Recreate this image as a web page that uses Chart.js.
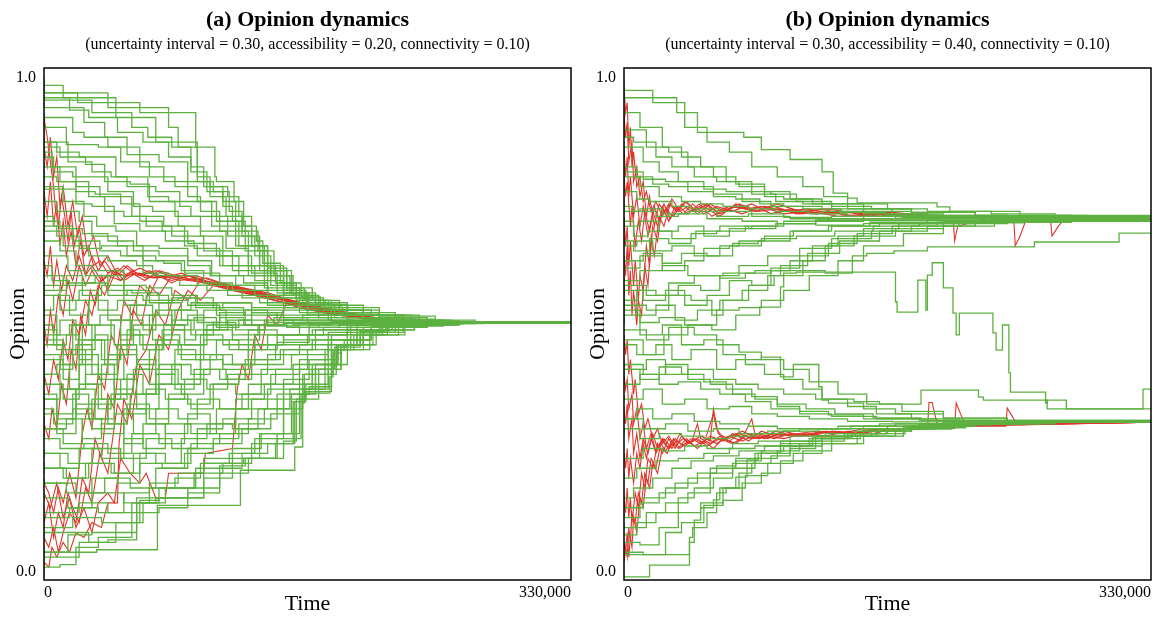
<!DOCTYPE html>
<html><head><meta charset="utf-8">
<script src="https://cdn.jsdelivr.net/npm/chart.js@4.4.1/dist/chart.umd.min.js"></script>
<style>
html,body{margin:0;padding:0;background:#fff;overflow:hidden}
#wrap{position:relative;width:1160px;height:620px;background:#fff}
canvas{position:absolute;top:0}
</style></head><body>
<div id="wrap">
<canvas id="ca" width="580" height="620" style="left:0"></canvas>
<canvas id="cb" width="580" height="620" style="left:580px"></canvas>
</div>
<script>
// Tick labels
const timeTicks = [0, 330000];
const opinionTicks = [0, 1];
const panelTitles = ['(a) Opinion dynamics', '(b) Opinion dynamics'];
const panelSubtitles = [
  '(uncertainty interval = 0.30, accessibility = 0.20, connectivity = 0.10)',
  '(uncertainty interval = 0.30, accessibility = 0.40, connectivity = 0.10)'
];
// Each series: [time (thousands), opinion, time, opinion, ...]
const greenA = [
 [0,1.0, 21,.97, 60,.95, 95,.93, 107,.86, 108,.80, 119,.79, 125,.75, 133,.70, 137,.67, 148,.625, 161,.585, 173,.557, 187,.536, 215,.515, 250,.506, 330,.506],
 [0,.99, 12,.985, 45,.96, 70,.92, 96,.87, 104,.80, 115,.78, 122,.76, 130,.72, 140,.66, 155,.61, 168,.575, 185,.55, 205,.53, 240,.51, 330,.505],
 [0,.96, 30,.955, 55,.93, 65,.90, 80,.88, 92,.86, 100,.82, 112,.78, 118,.74, 126,.71, 140,.65, 155,.60, 170,.565, 185,.545, 210,.525, 250,.508, 330,.505],
 [0,.93, 18,.92, 25,.89, 40,.88, 60,.86, 75,.82, 90,.79, 98,.76, 110,.73, 128,.69, 145,.62, 158,.585, 175,.555, 210,.535, 245,.518, 280,.507, 330,.505],
 [0,.90, 8,.87, 22,.85, 45,.84, 52,.80, 70,.78, 85,.77, 92,.74, 115,.72, 135,.68, 150,.62, 165,.565, 190,.545, 220,.525, 270,.51, 330,.505],
 [0,.88, 15,.87, 30,.83, 42,.81, 65,.80, 78,.76, 105,.75, 120,.70, 135,.66, 150,.61, 165,.565, 190,.54, 225,.52, 260,.508, 330,.505],
 [0,.86, 5,.85, 20,.82, 35,.78, 55,.76, 75,.72, 88,.70, 96,.66, 112,.64, 128,.62, 150,.60, 170,.555, 200,.53, 240,.515, 275,.507, 330,.505],
 [0,.83, 10,.82, 28,.79, 38,.76, 50,.73, 64,.72, 80,.70, 100,.68, 118,.65, 138,.61, 160,.575, 185,.535, 215,.52, 255,.51, 330,.505],
 [0,.80, 12,.78, 25,.75, 33,.72, 45,.70, 58,.69, 72,.66, 90,.655, 105,.63, 125,.60, 140,.585, 165,.555, 200,.525, 235,.515, 268,.507, 330,.505],
 [0,.77, 8,.75, 22,.73, 30,.71, 46,.68, 62,.66, 75,.63, 86,.625, 100,.61, 118,.585, 140,.57, 175,.54, 210,.52, 250,.51, 285,.506, 330,.505],
 [0,.74, 6,.72, 18,.70, 35,.67, 48,.65, 62,.64, 78,.605, 96,.60, 115,.58, 135,.56, 165,.545, 200,.52, 240,.51, 278,.506, 330,.505],
 [0,.71, 12,.69, 28,.66, 40,.64, 58,.63, 68,.62, 85,.60, 102,.58, 124,.57, 150,.555, 182,.535, 222,.515, 262,.507, 330,.505],
 [0,.68, 10,.67, 20,.65, 30,.62, 50,.61, 64,.58, 80,.575, 96,.56, 130,.545, 160,.535, 190,.525, 235,.51, 330,.505],
 [0,.65, 15,.64, 26,.61, 40,.60, 55,.57, 72,.565, 90,.55, 110,.54, 140,.53, 178,.52, 220,.51, 330,.505],
 [0,.63, 5,.62, 16,.59, 32,.585, 50,.60, 62,.56, 84,.55, 106,.555, 125,.535, 150,.52, 195,.51, 330,.505],
 [0,.975, 40,.97, 78,.94, 84,.90, 96,.86, 106,.79, 116,.77, 124,.73, 134,.69, 144,.65, 156,.60, 170,.56, 190,.535, 225,.515, 330,.505],
 [0,.95, 25,.94, 38,.91, 52,.88, 72,.845, 90,.83, 104,.79, 114,.76, 124,.72, 132,.68, 142,.64, 154,.60, 166,.565, 182,.54, 205,.525, 240,.51, 330,.505],
 [0,.91, 14,.90, 34,.865, 48,.86, 66,.83, 82,.80, 96,.78, 108,.75, 122,.71, 138,.66, 152,.61, 164,.57, 180,.545, 210,.525, 250,.508, 330,.505],
 [0,.845, 6,.84, 18,.81, 40,.80, 56,.77, 68,.74, 84,.73, 98,.70, 112,.68, 130,.64, 146,.605, 165,.565, 190,.54, 225,.52, 265,.507, 330,.505],
 [0,.785, 20,.775, 30,.745, 44,.74, 60,.705, 76,.69, 94,.67, 110,.655, 132,.62, 150,.59, 172,.56, 200,.54, 235,.52, 270,.507, 330,.505],
 [0,.69, 8,.70, 22,.68, 36,.655, 52,.66, 70,.64, 88,.63, 110,.605, 132,.58, 160,.56, 190,.54, 230,.52, 270,.507, 330,.505],
 [0,.965, 16,.96, 28,.935, 46,.92, 62,.89, 78,.87, 92,.84, 102,.81, 112,.77, 120,.75, 130,.70, 140,.66, 152,.615, 163,.575, 178,.55, 200,.53, 230,.512, 330,.505],
 [0,.875, 10,.86, 26,.84, 38,.825, 54,.79, 66,.785, 82,.75, 98,.72, 114,.69, 128,.655, 142,.62, 158,.58, 176,.55, 200,.53, 232,.515, 330,.505],
 [0,.815, 8,.80, 20,.79, 32,.77, 48,.765, 60,.745, 74,.71, 90,.69, 108,.665, 122,.64, 140,.60, 158,.57, 180,.55, 210,.53, 245,.512, 330,.505],
 [0,.725, 10,.71, 24,.695, 40,.685, 56,.67, 72,.65, 90,.64, 104,.62, 120,.60, 140,.58, 162,.56, 190,.54, 222,.52, 260,.508, 330,.505],
 [0,.58, 10,.56, 20,.53, 28,.55, 35,.50, 48,.52, 55,.47, 62,.51, 70,.49, 80,.53, 90,.50, 100,.52, 115,.49, 130,.51, 150,.50, 180,.51, 220,.505, 330,.505],
 [0,.55, 8,.52, 16,.48, 24,.50, 32,.45, 40,.48, 52,.44, 60,.49, 75,.46, 88,.50, 95,.47, 110,.49, 125,.515, 140,.50, 170,.505, 330,.505],
 [0,.52, 6,.50, 14,.46, 22,.48, 30,.43, 38,.47, 46,.42, 58,.46, 66,.41, 75,.45, 85,.48, 100,.46, 118,.49, 135,.47, 150,.50, 190,.503, 330,.505],
 [0,.49, 12,.47, 20,.44, 30,.46, 40,.40, 50,.44, 58,.39, 70,.43, 82,.40, 95,.45, 108,.43, 122,.47, 140,.45, 160,.48, 185,.495, 215,.50, 330,.505],
 [0,.46, 10,.44, 18,.41, 26,.45, 36,.38, 44,.42, 56,.37, 66,.41, 80,.38, 92,.42, 104,.40, 118,.44, 132,.42, 150,.46, 175,.48, 205,.495, 240,.503, 330,.505],
 [0,.43, 8,.40, 16,.42, 26,.37, 36,.40, 48,.35, 58,.39, 70,.36, 82,.40, 94,.37, 110,.41, 126,.39, 145,.43, 165,.46, 190,.48, 230,.50, 330,.505],
 [0,.40, 12,.38, 22,.35, 34,.38, 42,.33, 54,.36, 64,.32, 76,.37, 88,.35, 102,.39, 115,.37, 130,.40, 150,.42, 170,.45, 200,.47, 235,.495, 270,.503, 330,.505],
 [0,.37, 10,.35, 20,.37, 30,.32, 40,.35, 52,.30, 66,.34, 78,.31, 90,.36, 104,.34, 120,.38, 136,.36, 155,.41, 178,.44, 210,.485, 250,.498, 330,.505],
 [0,.34, 6,.33, 18,.30, 30,.33, 44,.29, 56,.32, 70,.28, 84,.33, 96,.31, 110,.35, 128,.33, 145,.38, 165,.41, 190,.45, 225,.49, 260,.50, 330,.505],
 [0,.31, 14,.29, 24,.31, 36,.27, 50,.30, 62,.26, 76,.30, 90,.28, 104,.32, 120,.30, 138,.35, 156,.38, 180,.42, 205,.47, 240,.495, 275,.503, 330,.505],
 [0,.575, 14,.57, 24,.60, 36,.56, 50,.58, 64,.54, 78,.56, 92,.53, 108,.545, 126,.52, 150,.53, 180,.515, 220,.508, 330,.505],
 [0,.355, 8,.36, 18,.32, 28,.36, 40,.31, 52,.35, 62,.40, 72,.36, 86,.42, 98,.39, 112,.44, 128,.42, 146,.46, 168,.48, 196,.49, 235,.50, 330,.505],
 [0,.60, 10,.58, 22,.55, 34,.57, 46,.53, 58,.55, 72,.52, 86,.545, 100,.51, 114,.53, 130,.50, 146,.525, 162,.51, 180,.52, 205,.508, 240,.505, 330,.505],
 [0,.47, 8,.49, 18,.45, 30,.50, 42,.47, 54,.51, 66,.48, 80,.52, 94,.49, 108,.515, 122,.495, 140,.51, 160,.498, 185,.505, 330,.505],
 [0,.44, 12,.46, 24,.42, 36,.47, 48,.43, 62,.48, 74,.45, 88,.49, 102,.46, 118,.50, 134,.48, 152,.50, 172,.495, 200,.503, 330,.505],
 [0,.38, 10,.40, 22,.37, 34,.42, 46,.39, 58,.44, 72,.41, 86,.46, 100,.43, 116,.47, 132,.45, 150,.48, 170,.47, 192,.49, 225,.50, 330,.505],
 [0,.33, 8,.35, 20,.31, 32,.37, 44,.34, 56,.39, 70,.36, 84,.41, 98,.38, 112,.43, 128,.41, 146,.45, 166,.465, 190,.48, 220,.495, 260,.503, 330,.505],
 [0,.27, 12,.29, 24,.26, 36,.31, 50,.28, 64,.33, 78,.30, 92,.35, 106,.33, 122,.38, 140,.40, 160,.44, 180,.46, 205,.48, 235,.497, 330,.505],
 [0,.54, 6,.53, 16,.56, 28,.52, 40,.55, 54,.51, 68,.54, 82,.50, 96,.53, 110,.505, 126,.525, 144,.50, 165,.515, 195,.505, 330,.505],
 [0,.61, 12,.60, 26,.58, 40,.585, 52,.56, 66,.57, 80,.545, 95,.555, 112,.535, 130,.545, 150,.525, 172,.53, 200,.515, 235,.508, 330,.505],
 [0,.505, 10,.48, 20,.51, 32,.47, 44,.50, 56,.46, 68,.50, 80,.47, 92,.51, 106,.48, 120,.505, 138,.49, 156,.51, 180,.50, 330,.505],
 [0,.415, 12,.43, 22,.39, 34,.44, 46,.40, 58,.45, 70,.42, 84,.47, 98,.44, 112,.48, 128,.46, 146,.49, 166,.48, 190,.50, 330,.505],
 [0,.30, 8,.32, 20,.28, 32,.34, 44,.31, 58,.36, 72,.33, 86,.38, 100,.36, 114,.41, 130,.39, 148,.43, 168,.45, 190,.47, 215,.49, 245,.50, 330,.505],
 [0,.23, 10,.24, 22,.21, 36,.25, 50,.23, 62,.27, 76,.25, 92,.30, 108,.28, 124,.33, 142,.36, 160,.40, 178,.43, 200,.46, 225,.485, 255,.50, 330,.505],
 [0,.20, 14,.21, 28,.19, 42,.22, 56,.20, 70,.24, 86,.22, 102,.27, 118,.30, 134,.29, 150,.33, 168,.38, 186,.42, 206,.46, 232,.49, 262,.503, 330,.505],
 [0,.175, 14,.18, 30,.16, 46,.19, 60,.18, 74,.22, 90,.21, 106,.25, 122,.27, 138,.30, 154,.33, 170,.37, 186,.41, 204,.45, 226,.48, 258,.50, 330,.505],
 [0,.115, 16,.11, 34,.13, 50,.12, 66,.16, 82,.17, 98,.19, 116,.22, 132,.24, 150,.27, 162,.33, 176,.37, 190,.42, 208,.46, 232,.49, 262,.503, 330,.505],
 [0,.035, 22,.03, 40,.06, 58,.065, 72,.12, 90,.13, 110,.16, 128,.20, 146,.23, 160,.28, 172,.35, 186,.41, 200,.45, 222,.48, 250,.50, 330,.505],
 [0,.28, 10,.27, 25,.25, 40,.26, 55,.24, 72,.28, 88,.26, 104,.30, 120,.28, 140,.33, 160,.37, 176,.41, 192,.45, 212,.48, 240,.497, 262,.503, 330,.505],
 [0,.25, 15,.24, 30,.22, 48,.25, 64,.23, 80,.27, 96,.25, 112,.29, 130,.31, 150,.35, 166,.39, 184,.43, 200,.46, 220,.485, 255,.50, 330,.505],
 [0,.22, 12,.21, 26,.19, 44,.22, 60,.20, 76,.24, 92,.22, 110,.26, 128,.28, 146,.31, 162,.36, 180,.40, 194,.45, 215,.48, 245,.50, 330,.505],
 [0,.19, 20,.18, 38,.16, 54,.19, 70,.17, 88,.21, 106,.24, 124,.26, 142,.29, 160,.32, 168,.37, 183,.41, 196,.46, 218,.49, 250,.502, 330,.505],
 [0,.16, 15,.15, 30,.13, 50,.16, 66,.14, 84,.18, 100,.20, 118,.23, 136,.25, 150,.28, 164,.35, 178,.38, 188,.45, 205,.47, 230,.495, 260,.503, 330,.505],
 [0,.13, 22,.12, 40,.14, 58,.12, 76,.15, 94,.17, 112,.20, 130,.22, 146,.26, 161,.27, 166,.36, 180,.375, 184,.42, 192,.46, 214,.49, 245,.50, 330,.505],
 [0,.10, 18,.09, 36,.11, 55,.10, 72,.14, 90,.15, 110,.17, 126,.215, 150,.23, 158,.265, 163,.35, 178,.37, 182,.41, 190,.455, 204,.47, 222,.49, 250,.502, 330,.505],
 [0,.07, 28,.08, 45,.06, 62,.10, 76,.14, 100,.15, 125,.22, 145,.23, 157,.26, 164,.345, 180,.365, 183,.40, 188,.45, 200,.46, 216,.488, 240,.499, 330,.505],
 [0,-.01, 33,.04, 71,.045, 72,.135, 123,.135, 125,.206, 157,.206, 158,.253, 162,.253, 163,.342, 179,.362, 181,.395, 186,.443, 198,.455, 211,.484, 236,.496, 253,.504, 330,.505],
 [0,.02, 10,.01, 20,.015, 34,.05, 55,.07, 60,.10, 72,.145, 95,.17, 124,.21, 140,.24, 156,.26, 163,.345, 181,.40, 186,.45, 198,.46, 212,.487, 238,.498, 330,.505],
 [0,.05, 15,.04, 30,.075, 58,.08, 70,.14, 100,.15, 118,.19, 135,.23, 155,.28, 170,.36, 184,.42, 196,.46, 215,.485, 248,.50, 330,.505]
];
const redA = [
 [0,.92, 2,.88, 4,.83, 6,.78, 7,.74, 9,.70, 11,.76, 13,.72, 15,.67, 17,.73, 19,.66, 22,.70, 25,.64, 28,.66, 31,.62, 35,.63, 40,.605, 46,.615, 52,.60, 60,.605, 70,.595, 82,.60, 95,.59, 110,.585, 125,.575, 140,.565, 160,.545, 180,.53, 200,.515, 228,.506, 330,.505],
 [0,.77, 2,.72, 4,.79, 6,.70, 8,.75, 10,.66, 12,.71, 14,.64, 17,.69, 20,.62, 23,.67, 26,.60, 30,.64, 34,.61, 38,.63, 44,.60, 50,.62, 58,.60, 66,.61, 75,.595, 86,.605, 98,.59, 112,.58, 128,.57, 145,.555, 165,.54, 185,.525, 210,.51, 232,.505, 330,.505],
 [0,.63, 2,.60, 4,.66, 6,.58, 8,.63, 11,.57, 14,.62, 18,.59, 22,.64, 26,.60, 30,.62, 36,.59, 42,.61, 50,.60, 60,.615, 70,.60, 80,.59, 92,.60, 105,.585, 120,.575, 138,.56, 155,.545, 175,.53, 200,.515, 228,.505, 330,.505],
 [0,.50, 2,.46, 4,.53, 6,.48, 9,.56, 12,.52, 15,.59, 18,.55, 22,.62, 26,.58, 30,.61, 35,.585, 40,.60, 48,.59, 55,.61, 64,.595, 74,.60, 85,.59, 96,.595, 108,.58, 122,.57, 140,.555, 160,.535, 185,.52, 215,.508, 235,.505, 330,.505],
 [0,.30, 3,.27, 5,.33, 8,.29, 11,.38, 14,.34, 17,.45, 20,.41, 23,.52, 26,.48, 29,.57, 32,.54, 36,.60, 40,.57, 45,.61, 50,.59, 58,.605, 68,.595, 78,.60, 90,.59, 104,.585, 118,.575, 134,.565, 150,.55, 172,.53, 195,.515, 225,.505, 330,.505],
 [0,.18, 3,.16, 6,.12, 9,.17, 12,.14, 16,.20, 20,.15, 24,.28, 27,.33, 30,.29, 34,.40, 38,.37, 42,.48, 46,.45, 50,.55, 55,.52, 60,.58, 66,.56, 72,.60, 80,.585, 90,.60, 100,.59, 115,.58, 130,.57, 148,.555, 168,.54, 190,.525, 215,.51, 235,.505, 330,.505],
 [0,.10, 3,.14, 6,.07, 9,.12, 12,.09, 15,.16, 18,.13, 22,.10, 26,.17, 30,.14, 35,.24, 40,.20, 46,.34, 52,.30, 58,.42, 64,.45, 70,.53, 76,.50, 82,.57, 90,.55, 98,.59, 108,.58, 120,.575, 135,.56, 150,.55, 170,.535, 195,.52, 225,.506, 330,.505],
 [0,.02, 3,.01, 5,.05, 8,.03, 12,.06, 16,.04, 20,.08, 25,.07, 30,.10, 36,.09, 40,.14, 46,.14, 47,.26, 50,.35, 55,.31, 60,.42, 66,.38, 72,.48, 78,.45, 84,.53, 90,.57, 98,.55, 106,.58, 118,.57, 132,.56, 150,.545, 170,.535, 195,.52, 225,.506, 330,.505],
 [0,.16, 4,.13, 8,.18, 12,.11, 16,.15, 20,.09, 25,.13, 30,.08, 34,.14, 40,.16, 44,.14, 48,.23, 54,.20, 60,.18, 64,.20, 70,.15, 76,.15, 78,.20, 100,.20, 101,.24, 118,.25, 121,.37, 124,.42, 128,.39, 132,.48, 136,.45, 140,.52, 146,.50, 152,.545, 160,.535, 175,.525, 195,.515, 225,.505, 330,.505],
 [0,.86, 2,.82, 4,.88, 6,.80, 8,.84, 10,.74, 12,.78, 15,.70, 18,.75, 21,.68, 24,.72, 27,.65, 31,.68, 35,.62, 40,.64, 46,.60, 52,.62, 60,.60, 70,.61, 82,.595, 95,.60, 110,.585, 125,.575, 142,.56, 162,.54, 185,.525, 210,.51, 232,.505, 330,.505],
 [0,.40, 3,.36, 6,.43, 9,.39, 12,.47, 15,.43, 18,.51, 22,.48, 26,.55, 30,.52, 34,.58, 38,.56, 43,.61, 48,.59, 55,.605, 63,.59, 72,.61, 82,.60, 94,.59, 106,.58, 120,.57, 138,.555, 158,.54, 180,.525, 205,.51, 230,.505, 330,.505],
 [0,.07, 3,.05, 6,.09, 9,.04, 12,.08, 16,.12, 20,.10, 24,.19, 28,.16, 32,.27, 36,.23, 40,.36, 44,.33, 48,.46, 52,.42, 56,.53, 61,.50, 66,.58, 72,.56, 80,.60, 90,.59, 102,.595, 116,.58, 130,.57, 146,.555, 166,.54, 190,.525, 220,.508, 240,.505, 330,.505]
];
const greenB = [
 [0,.995, 33,.96, 46,.93, 75,.89, 86,.88, 104,.855, 124,.835, 131,.81, 140,.767, 146,.757, 196,.747, 204,.739, 248,.73, 290,.722, 330,.72],
 [0,.97, 18,.975, 38,.95, 52,.90, 66,.87, 80,.85, 96,.82, 112,.80, 125,.78, 140,.76, 165,.745, 190,.735, 230,.73, 270,.725, 330,.722],
 [0,.94, 10,.93, 24,.90, 36,.86, 48,.84, 64,.82, 80,.79, 92,.77, 108,.765, 130,.75, 155,.74, 180,.735, 220,.728, 330,.718],
 [0,.91, 6,.88, 20,.87, 30,.84, 44,.82, 58,.80, 72,.79, 88,.78, 100,.76, 118,.755, 140,.745, 168,.735, 200,.725, 260,.72, 330,.716],
 [0,.90, 14,.895, 28,.86, 40,.85, 56,.82, 70,.80, 88,.785, 104,.77, 124,.755, 150,.745, 180,.735, 220,.728, 280,.722, 330,.72],
 [0,.87, 12,.86, 22,.83, 34,.81, 50,.79, 64,.775, 80,.77, 95,.765, 112,.75, 130,.745, 150,.735, 180,.73, 240,.722, 330,.718],
 [0,.84, 8,.82, 18,.80, 28,.785, 40,.78, 56,.77, 70,.76, 85,.755, 100,.745, 124,.74, 150,.73, 190,.725, 250,.72, 330,.715],
 [0,.825, 12,.81, 26,.795, 40,.79, 56,.78, 74,.765, 92,.75, 112,.74, 136,.735, 164,.728, 200,.722, 260,.718, 330,.716],
 [0,.81, 10,.80, 22,.78, 36,.76, 48,.75, 62,.745, 78,.74, 95,.735, 116,.73, 140,.725, 175,.72, 230,.718, 330,.714],
 [0,.78, 8,.77, 16,.755, 30,.75, 42,.74, 60,.735, 80,.73, 104,.72, 128,.715, 160,.712, 210,.712, 330,.712],
 [0,.76, 6,.74, 20,.73, 34,.72, 52,.725, 74,.715, 96,.71, 120,.705, 150,.702, 190,.705, 240,.708, 330,.71],
 [0,.60, 10,.59, 24,.61, 40,.62, 62,.60, 82,.605, 100,.61, 126,.61, 143,.605, 152,.64, 169,.645, 190,.65, 209,.658, 257,.658, 258,.668, 310,.668, 311,.686, 330,.686],
 [0,.68, 8,.66, 18,.67, 30,.65, 44,.66, 60,.64, 72,.66, 88,.67, 106,.68, 130,.69, 160,.70, 200,.705, 250,.71, 330,.712],
 [0,.64, 12,.63, 24,.645, 38,.61, 50,.63, 66,.655, 86,.66, 108,.675, 132,.68, 156,.69, 185,.70, 220,.705, 270,.71, 330,.712],
 [0,.57, 8,.55, 20,.57, 34,.56, 48,.58, 60,.57, 72,.60, 90,.62, 110,.64, 130,.655, 155,.675, 180,.69, 210,.70, 250,.707, 330,.71],
 [0,.565, 14,.58, 28,.56, 44,.585, 60,.60, 76,.595, 92,.605, 110,.615, 128,.64, 146,.665, 168,.685, 196,.70, 240,.708, 330,.712],
 [0,.55, 14,.54, 28,.53, 42,.56, 55,.55, 62,.52, 78,.55, 94,.58, 112,.60, 126,.63, 144,.66, 170,.68, 200,.695, 240,.705, 330,.71],
 [0,.52, 10,.53, 22,.505, 38,.515, 58,.50, 72,.53, 86,.535, 100,.55, 116,.57, 134,.60, 150,.63, 175,.66, 200,.685, 232,.70, 280,.708, 330,.712],
 [0,.72, 10,.70, 22,.71, 34,.69, 50,.70, 66,.68, 80,.695, 100,.70, 122,.71, 150,.715, 190,.72, 240,.722, 330,.72],
 [0,.70, 6,.71, 15,.68, 30,.69, 45,.675, 60,.69, 78,.70, 95,.695, 120,.705, 150,.71, 200,.715, 330,.716],
 [0,.66, 6,.67, 16,.65, 28,.675, 42,.665, 58,.685, 76,.69, 96,.70, 120,.705, 150,.712, 200,.715, 330,.715],
 [0,.745, 10,.73, 24,.735, 40,.725, 58,.73, 78,.72, 100,.725, 130,.718, 170,.72, 230,.716, 330,.714],
 [0,.62, 10,.615, 24,.64, 36,.625, 52,.645, 68,.64, 84,.665, 104,.67, 128,.69, 154,.70, 190,.708, 240,.712, 330,.714],
 [0,.45, 12,.47, 25,.44, 40,.48, 55,.50, 70,.49, 85,.52, 98,.536, 100,.577, 108,.605, 120,.607, 170,.607, 171,.547, 176,.526, 184,.526, 187,.591, 189,.591, 190,.53, 193,.601, 200,.626, 202,.575, 206,.575, 208,.524, 210,.48, 212,.524, 231,.524, 233,.484, 237,.449, 239,.50, 241,.50, 242,.403, 246,.364, 264,.364, 265,.342, 277,.348, 306,.33, 330,.33],
 [0,.50, 10,.52, 24,.48, 36,.50, 50,.46, 62,.47, 76,.44, 88,.42, 100,.40, 112,.39, 124,.37, 140,.35, 158,.335, 180,.32, 210,.31, 260,.305, 330,.305],
 [0,.485, 14,.49, 28,.47, 44,.495, 58,.48, 72,.46, 86,.445, 100,.43, 116,.41, 134,.385, 152,.36, 174,.34, 200,.325, 240,.312, 330,.307],
 [0,.47, 8,.46, 20,.44, 30,.46, 42,.43, 58,.45, 70,.41, 86,.43, 98,.435, 106,.395, 110,.42, 122,.42, 124,.375, 128,.348, 150,.342, 170,.33, 200,.32, 240,.31, 330,.307],
 [0,.43, 12,.42, 26,.40, 40,.42, 54,.39, 68,.38, 82,.36, 96,.35, 110,.335, 128,.325, 150,.318, 185,.31, 230,.306, 330,.305],
 [0,.40, 10,.41, 22,.39, 36,.415, 50,.40, 64,.385, 80,.37, 96,.355, 114,.34, 132,.33, 156,.32, 186,.312, 230,.307, 330,.305],
 [0,.58, 12,.57, 26,.55, 38,.57, 52,.54, 66,.56, 80,.59, 92,.58, 104,.61, 118,.63, 134,.66, 150,.68, 172,.695, 200,.705, 250,.71, 330,.712],
 [0,.53, 8,.55, 20,.52, 32,.54, 46,.51, 60,.53, 74,.55, 90,.57, 98,.60, 115,.62, 135,.645, 160,.67, 190,.69, 220,.70, 280,.708, 330,.71],
 [0,-.01, 16,-.01, 17,.014, 41,.014, 44,.06, 48,.105, 56,.13, 60,.146, 70,.17, 77,.192, 84,.227, 98,.24, 118,.26, 143,.273, 160,.28, 190,.29, 230,.30, 280,.303, 330,.305],
 [0,.035, 41,.035, 43,.07, 52,.09, 58,.12, 64,.16, 72,.17, 80,.20, 92,.22, 104,.235, 120,.25, 138,.265, 158,.275, 180,.285, 215,.295, 260,.30, 330,.303],
 [0,.04, 12,.04, 26,.035, 36,.08, 50,.10, 62,.135, 74,.145, 86,.18, 98,.20, 112,.225, 130,.245, 150,.26, 175,.275, 205,.29, 245,.30, 330,.305],
 [0,.06, 10,.06, 22,.055, 34,.09, 48,.12, 62,.14, 76,.17, 90,.195, 106,.22, 124,.24, 146,.26, 170,.275, 205,.29, 250,.30, 330,.305],
 [0,.08, 8,.075, 20,.10, 34,.12, 44,.15, 56,.17, 68,.19, 82,.21, 96,.23, 110,.245, 130,.26, 155,.275, 185,.29, 225,.30, 330,.306],
 [0,.10, 14,.09, 26,.12, 40,.14, 54,.16, 68,.20, 82,.22, 98,.24, 116,.255, 138,.27, 164,.28, 196,.29, 240,.30, 330,.305],
 [0,.12, 10,.11, 22,.14, 32,.16, 46,.18, 58,.20, 70,.215, 86,.23, 100,.245, 118,.255, 140,.27, 165,.28, 200,.295, 250,.302, 330,.306],
 [0,.14, 12,.13, 26,.15, 40,.17, 54,.19, 70,.21, 86,.225, 104,.24, 124,.255, 148,.27, 176,.28, 214,.292, 270,.302, 330,.305],
 [0,.16, 6,.15, 18,.17, 30,.19, 42,.21, 56,.225, 72,.235, 88,.245, 104,.255, 124,.265, 150,.275, 180,.285, 220,.295, 280,.303, 330,.306],
 [0,.20, 8,.19, 20,.21, 34,.225, 50,.23, 66,.24, 82,.25, 98,.255, 120,.265, 145,.275, 175,.285, 215,.295, 270,.30, 330,.305],
 [0,.24, 12,.23, 24,.25, 38,.245, 52,.255, 68,.25, 84,.26, 104,.265, 126,.275, 150,.28, 185,.29, 230,.298, 330,.305],
 [0,.28, 10,.29, 22,.27, 36,.28, 50,.275, 66,.27, 82,.275, 100,.28, 122,.285, 150,.29, 190,.295, 240,.30, 330,.304],
 [0,.30, 12,.31, 26,.29, 40,.30, 56,.285, 72,.29, 90,.28, 110,.285, 134,.29, 160,.295, 200,.30, 330,.304],
 [0,.32, 8,.31, 18,.33, 30,.31, 44,.32, 60,.305, 78,.30, 96,.295, 118,.29, 142,.29, 170,.295, 210,.30, 260,.303, 330,.305],
 [0,.36, 12,.35, 24,.37, 38,.34, 52,.35, 66,.33, 80,.335, 96,.32, 116,.315, 140,.31, 168,.305, 200,.304, 260,.304, 330,.305],
 [0,.39, 10,.38, 22,.40, 34,.38, 48,.385, 60,.37, 76,.36, 92,.345, 110,.33, 130,.32, 158,.315, 196,.31, 250,.306, 330,.305],
 [0,.42, 14,.41, 26,.43, 40,.40, 56,.41, 70,.39, 84,.38, 100,.37, 120,.36, 144,.35, 160,.345, 186,.34, 187,.368, 222,.368, 225,.354, 265,.348, 268,.33, 325,.33, 326,.37, 330,.37]
];
const redB = [
 [0,.98, 1,.93, 2,.95, 3,.86, 4,.90, 5,.82, 6,.85, 8,.78, 10,.80, 12,.75, 14,.77, 17,.73, 20,.75, 24,.72, 28,.745, 33,.73, 38,.75, 44,.735, 50,.745, 58,.73, 66,.74, 76,.735, 88,.74, 100,.73, 115,.735, 130,.725, 150,.73, 170,.72, 190,.722, 206,.72, 207,.67, 209,.70, 230,.718, 260,.716, 330,.715],
 [0,.93, 1,.88, 2,.91, 3,.83, 5,.87, 6,.79, 8,.82, 10,.76, 12,.79, 14,.72, 16,.76, 19,.70, 22,.745, 26,.725, 30,.755, 35,.73, 40,.74, 46,.725, 54,.745, 62,.73, 72,.745, 84,.73, 96,.735, 110,.725, 126,.73, 145,.72, 165,.725, 185,.718, 215,.72, 244,.718, 245,.66, 248,.68, 252,.715, 330,.716],
 [0,.86, 1,.80, 2,.84, 3,.76, 4,.80, 6,.72, 8,.76, 10,.70, 12,.74, 15,.68, 18,.73, 21,.70, 25,.745, 29,.715, 34,.74, 40,.725, 47,.745, 55,.72, 64,.735, 74,.725, 86,.74, 100,.725, 116,.73, 134,.72, 154,.725, 176,.718, 200,.72, 267,.718, 268,.68, 272,.70, 276,.715, 330,.715],
 [0,.80, 1,.76, 2,.79, 4,.70, 5,.74, 7,.66, 9,.71, 11,.67, 13,.73, 16,.69, 19,.74, 22,.71, 26,.735, 31,.72, 36,.745, 42,.73, 50,.74, 60,.72, 70,.745, 82,.73, 94,.74, 108,.725, 124,.735, 142,.72, 162,.725, 184,.72, 230,.718, 330,.716],
 [0,.72, 1,.66, 2,.70, 3,.62, 4,.67, 6,.58, 7,.63, 9,.55, 10,.60, 12,.57, 14,.66, 16,.62, 18,.70, 21,.67, 24,.74, 28,.71, 32,.74, 37,.725, 43,.745, 50,.725, 58,.74, 68,.73, 80,.745, 92,.725, 104,.735, 120,.725, 140,.73, 160,.72, 180,.724, 220,.718, 330,.716],
 [0,.64, 1,.60, 2,.66, 3,.56, 4,.61, 5,.52, 6,.57, 8,.50, 9,.55, 11,.52, 13,.62, 15,.58, 17,.68, 19,.64, 22,.72, 25,.70, 29,.745, 34,.73, 39,.75, 45,.73, 52,.745, 60,.725, 70,.74, 82,.73, 96,.745, 110,.73, 128,.735, 146,.725, 168,.728, 195,.72, 240,.718, 330,.716],
 [0,.48, 1,.44, 2,.47, 3,.40, 4,.43, 6,.36, 7,.39, 9,.32, 11,.34, 13,.29, 15,.31, 18,.27, 21,.29, 24,.26, 28,.275, 32,.255, 37,.27, 42,.26, 46,.30, 48,.27, 54,.26, 60,.275, 66,.265, 72,.28, 80,.27, 90,.275, 100,.27, 112,.28, 126,.275, 140,.285, 155,.28, 170,.29, 190,.29, 191,.343, 193,.343, 196,.30, 220,.298, 260,.302, 330,.305],
 [0,.40, 1,.37, 2,.39, 3,.33, 5,.36, 6,.30, 8,.33, 10,.27, 12,.30, 14,.25, 17,.28, 20,.245, 24,.27, 28,.25, 33,.265, 38,.255, 44,.27, 50,.26, 56,.32, 58,.29, 62,.27, 70,.28, 78,.265, 86,.285, 96,.275, 108,.28, 120,.285, 134,.28, 150,.29, 168,.285, 190,.295, 207,.29, 208,.342, 212,.31, 215,.295, 250,.30, 330,.304],
 [0,.33, 1,.30, 2,.34, 3,.27, 5,.31, 6,.24, 8,.28, 10,.23, 12,.27, 15,.24, 18,.28, 21,.25, 25,.27, 30,.25, 35,.28, 40,.26, 48,.275, 54,.265, 56,.33, 59,.28, 65,.27, 74,.285, 84,.27, 94,.28, 106,.275, 118,.28, 132,.285, 148,.28, 165,.29, 185,.29, 215,.295, 239,.295, 240,.332, 244,.31, 248,.298, 330,.303],
 [0,.24, 1,.21, 2,.25, 3,.19, 4,.23, 6,.18, 8,.24, 10,.21, 12,.26, 14,.23, 17,.27, 20,.24, 24,.265, 28,.25, 32,.27, 37,.255, 42,.27, 48,.26, 54,.275, 62,.265, 68,.28, 74,.27, 80,.31, 82,.28, 90,.27, 100,.285, 112,.275, 126,.285, 142,.28, 160,.29, 180,.288, 205,.295, 240,.298, 330,.303],
 [0,.15, 1,.12, 2,.17, 3,.11, 4,.15, 5,.10, 7,.16, 9,.13, 11,.20, 13,.17, 15,.23, 18,.21, 21,.26, 24,.24, 28,.27, 32,.25, 36,.275, 41,.26, 46,.27, 52,.255, 60,.27, 68,.26, 76,.275, 85,.27, 95,.285, 106,.275, 118,.28, 130,.285, 145,.28, 162,.29, 185,.29, 210,.295, 330,.303],
 [0,.06, 1,.04, 2,.08, 3,.03, 4,.07, 5,.05, 6,.11, 8,.08, 10,.15, 12,.13, 14,.19, 16,.17, 18,.22, 21,.20, 24,.25, 27,.24, 31,.27, 35,.25, 40,.265, 46,.25, 52,.27, 58,.26, 66,.275, 74,.265, 84,.28, 94,.27, 104,.28, 116,.275, 130,.285, 146,.28, 164,.29, 190,.292, 230,.298, 330,.303],
 [0,.02, 1,.05, 2,.03, 3,.09, 4,.06, 5,.12, 7,.10, 9,.16, 11,.14, 13,.20, 15,.18, 17,.23, 20,.21, 23,.26, 26,.245, 30,.265, 34,.25, 39,.27, 44,.255, 50,.265, 56,.25, 62,.27, 70,.26, 78,.28, 88,.27, 98,.28, 110,.275, 124,.285, 140,.28, 158,.29, 180,.29, 210,.296, 330,.303]
];

const GREEN = 'rgb(92,177,64)';
const RED = 'rgb(222,54,42)';
const SERIF = "'Liberation Serif', 'Times New Roman', serif";
Chart.defaults.font.family = SERIF;
Chart.defaults.color = '#000';

function toPoints(arr) {
  const pts = [];
  for (let i = 0; i < arr.length; i += 2) pts.push({x: arr[i] * 1000, y: arr[i + 1]});
  return pts;
}

const framePlugin = {
  id: 'frame',
  afterDraw(chart) {
    const a = chart.chartArea, c = chart.ctx;
    c.save();
    c.strokeStyle = '#000';
    c.lineWidth = 1.5;
    c.strokeRect(a.left, a.top, a.right - a.left, a.bottom - a.top);
    c.restore();
  }
};

function build(id, idx, greens, reds) {
  const datasets = [];
  greens.forEach(s => datasets.push({data: toPoints(s), borderColor: GREEN, borderWidth: 1.3, stepped: 'after', pointRadius: 0, fill: false}));
  reds.forEach(s => datasets.push({data: toPoints(s), borderColor: RED, borderWidth: 1.1, pointRadius: 0, tension: 0, fill: false}));
  new Chart(document.getElementById(id), {
    type: 'line',
    data: {datasets},
    plugins: [framePlugin],
    options: {
      responsive: false, animation: false, devicePixelRatio: 1,
      events: [],
      layout: {padding: {left: 0, right: 9, top: 0, bottom: 0}},
      plugins: {
        legend: {display: false}, tooltip: {enabled: false},
        title: {display: true, fullSize: false, text: panelTitles[idx], color: '#000',
          font: {family: SERIF, size: 22, weight: 'bold'}, padding: {top: 7, bottom: 0}},
        subtitle: {display: true, fullSize: false, text: panelSubtitles[idx], color: '#000',
          font: {family: SERIF, size: 16}, padding: {top: 2, bottom: 13.4}}
      },
      scales: {
        x: {
          type: 'linear', min: 0, max: 330000,
          afterBuildTicks: s => { s.ticks = timeTicks.map(v => ({value: v})); },
          afterFit: s => { s.height = 40; },
          grid: {display: false, drawTicks: false}, border: {display: false},
          ticks: {align: 'inner', autoSkip: false, maxRotation: 0, padding: 3, color: '#000',
            font: {family: SERIF, size: 16}, callback: v => Number(v).toLocaleString('en-US')},
          title: {display: true, text: 'Time', color: '#000', font: {family: SERIF, size: 22}, padding: {top: 0, bottom: 3}}
        },
        y: {
          type: 'linear', min: -0.0162, max: 1.0202,
          afterBuildTicks: s => { s.ticks = opinionTicks.map(v => ({value: v})); },
          afterFit: s => { s.width = 44; },
          grid: {display: false, drawTicks: false}, border: {display: false},
          ticks: {autoSkip: false, padding: 8, color: '#000', font: {family: SERIF, size: 16},
            callback: v => Number(v).toFixed(1)},
          title: {display: true, text: 'Opinion', color: '#000', font: {family: SERIF, size: 22}, padding: {top: 5, bottom: 0}}
        }
      }
    }
  });
}
build('ca', 0, greenA, redA);
build('cb', 1, greenB, redB);
</script>
</body></html>
